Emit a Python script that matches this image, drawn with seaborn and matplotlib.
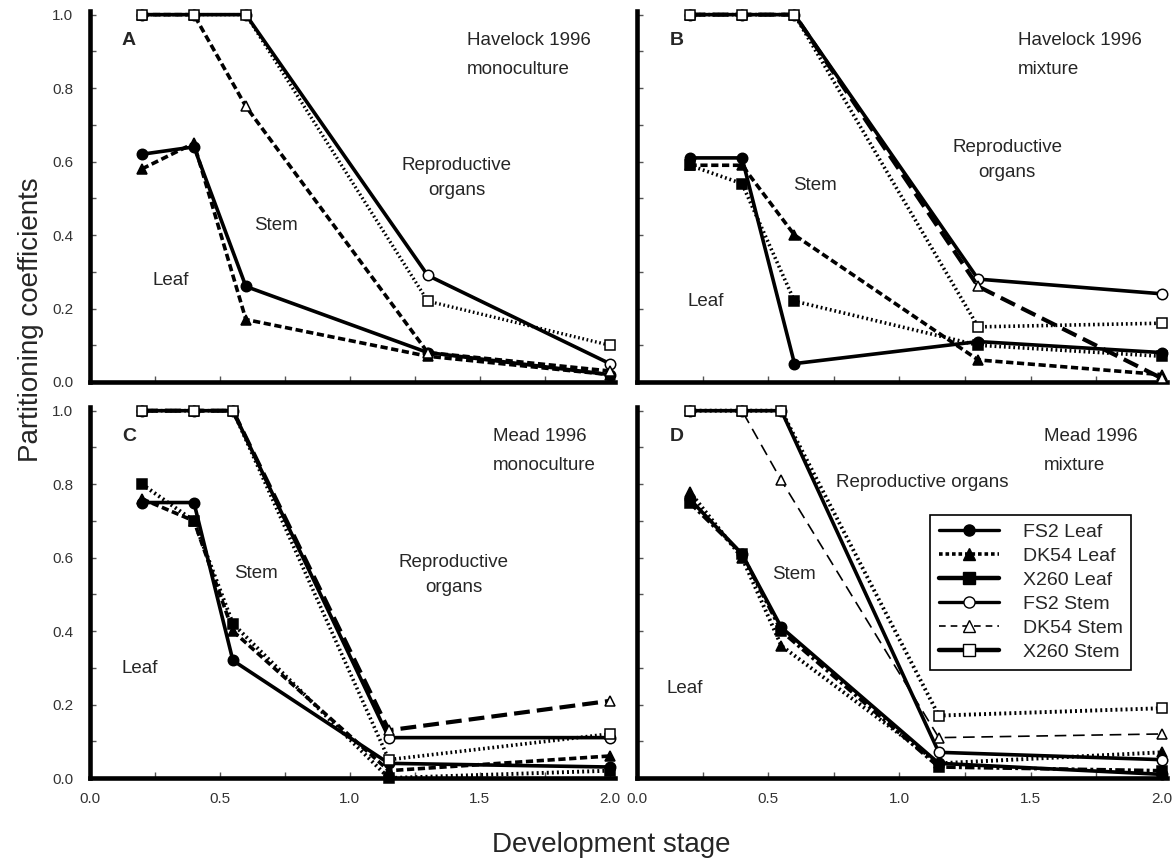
import numpy as np
import matplotlib
matplotlib.use("Agg")
import matplotlib.pyplot as plt
from matplotlib.lines import Line2D
from matplotlib.ticker import MultipleLocator
import seaborn as sns

sns.set_theme(style="white")
plt.rcParams['font.family'] = ['Liberation Sans', 'DejaVu Sans']

nan = np.nan

# development stage at each harvest
stage_havelock = [0.2, 0.4, 0.6, 1.3, 2.0]
stage_mead = [0.2, 0.4, 0.55, 1.15, 2.0]

series_names = ["FS2 Leaf", "DK54 Leaf", "X260 Leaf", "FS2 Stem", "DK54 Stem", "X260 Stem"]

# A - Havelock 1996 monoculture
a_fs2_leaf = [0.62, 0.64, 0.26, 0.08, 0.02]
a_dk54_leaf = [0.58, 0.65, 0.17, 0.07, 0.02]
a_x260_leaf = [nan, nan, nan, nan, nan]
a_fs2_stem = [1.0, 1.0, 1.0, 0.29, 0.05]
a_dk54_stem = [1.0, 1.0, 0.75, 0.08, 0.03]
a_x260_stem = [1.0, 1.0, 1.0, 0.22, 0.10]

# B - Havelock 1996 mixture
b_fs2_leaf = [0.61, 0.61, 0.05, 0.11, 0.08]
b_dk54_leaf = [0.59, 0.59, 0.40, 0.06, 0.02]
b_x260_leaf = [0.59, 0.54, 0.22, 0.10, 0.07]
b_fs2_stem = [1.0, 1.0, 1.0, 0.28, 0.24]
b_dk54_stem = [1.0, 1.0, 1.0, 0.26, 0.01]
b_x260_stem = [1.0, 1.0, 1.0, 0.15, 0.16]

# C - Mead 1996 monoculture
c_fs2_leaf = [0.75, 0.75, 0.32, 0.04, 0.03]
c_dk54_leaf = [0.76, 0.70, 0.40, 0.02, 0.06]
c_x260_leaf = [0.80, 0.70, 0.42, 0.00, 0.02]
c_fs2_stem = [1.0, 1.0, 1.0, 0.11, 0.11]
c_dk54_stem = [1.0, 1.0, 1.0, 0.13, 0.21]
c_x260_stem = [1.0, 1.0, 1.0, 0.05, 0.12]

# D - Mead 1996 mixture
d_fs2_leaf = [0.76, 0.61, 0.41, 0.04, 0.01]
d_dk54_leaf = [0.78, 0.60, 0.36, 0.04, 0.07]
d_x260_leaf = [0.75, 0.61, 0.40, 0.03, 0.02]
d_fs2_stem = [1.0, 1.0, 1.0, 0.07, 0.05]
d_dk54_stem = [1.0, 1.0, 0.81, 0.11, 0.12]
d_x260_stem = [1.0, 1.0, 1.0, 0.17, 0.19]

panel_letters = ["A", "B", "C", "D"]
site_labels = ["Havelock 1996", "Havelock 1996", "Mead 1996", "Mead 1996"]
system_labels = ["monoculture", "mixture", "monoculture", "mixture"]

# line styles
SOLID = "-"
SHORT = (0, (2.0, 1.0))
LONG = (0, (3.8, 1.7))
DOT = (0, (0.5, 0.8))
DASHDOT = (0, (2.6, 0.9, 0.8, 0.9))
THIN = (0, (7.0, 4.0))

marker_of = {"FS2": "o", "DK54": "^", "X260": "s"}

panel_styles = [
    {"FS2 Leaf": (SOLID, 2.6), "DK54 Leaf": (SHORT, 2.6), "X260 Leaf": (DOT, 2.6),
     "FS2 Stem": (SOLID, 2.6), "DK54 Stem": (SHORT, 2.6), "X260 Stem": (DOT, 2.4)},
    {"FS2 Leaf": (SOLID, 2.6), "DK54 Leaf": (SHORT, 2.6), "X260 Leaf": (DOT, 2.6),
     "FS2 Stem": (SOLID, 2.6), "DK54 Stem": (LONG, 3.0), "X260 Stem": (DOT, 2.6)},
    {"FS2 Leaf": (SOLID, 2.6), "DK54 Leaf": (SHORT, 2.6), "X260 Leaf": (DOT, 2.8),
     "FS2 Stem": (SOLID, 2.6), "DK54 Stem": (LONG, 3.0), "X260 Stem": (DOT, 2.6)},
    {"FS2 Leaf": (SOLID, 2.6), "DK54 Leaf": (DOT, 2.8), "X260 Leaf": (DASHDOT, 2.6),
     "FS2 Stem": (SOLID, 2.6), "DK54 Stem": (THIN, 1.2), "X260 Stem": (DOT, 2.8)},
]

panel_data = [
    (stage_havelock, [a_fs2_leaf, a_dk54_leaf, a_x260_leaf, a_fs2_stem, a_dk54_stem, a_x260_stem]),
    (stage_havelock, [b_fs2_leaf, b_dk54_leaf, b_x260_leaf, b_fs2_stem, b_dk54_stem, b_x260_stem]),
    (stage_mead, [c_fs2_leaf, c_dk54_leaf, c_x260_leaf, c_fs2_stem, c_dk54_stem, c_x260_stem]),
    (stage_mead, [d_fs2_leaf, d_dk54_leaf, d_x260_leaf, d_fs2_stem, d_dk54_stem, d_x260_stem]),
]

# region labels (x, y in data units)
region_text = [
    [("Leaf", 0.31, 0.275), ("Stem", 0.715, 0.425), ("Reproductive\norgans", 1.41, 0.555)],
    [("Leaf", 0.26, 0.218), ("Stem", 0.68, 0.535), ("Reproductive\norgans", 1.41, 0.605)],
    [("Leaf", 0.19, 0.298), ("Stem", 0.64, 0.558), ("Reproductive\norgans", 1.40, 0.552)],
    [("Leaf", 0.18, 0.244), ("Stem", 0.597, 0.554), ("Reproductive organs", 1.087, 0.805)],
]

fig = plt.figure(figsize=(11.76, 8.64), dpi=100)
positions = [
    [0.0765, 0.5579, 0.4464, 0.4294],
    [0.5417, 0.5579, 0.4507, 0.4294],
    [0.0765, 0.0995, 0.4464, 0.4294],
    [0.5417, 0.0995, 0.4507, 0.4294],
]

for i, pos in enumerate(positions):
    ax = fig.add_axes(pos)
    stage, values = panel_data[i]
    for name, y in zip(series_names, values):
        if np.all(np.isnan(y)):
            continue
        ls, lw = panel_styles[i][name]
        cultivar, organ = name.split()
        face = "black" if organ == "Leaf" else "white"
        sns.lineplot(x=stage, y=y, ax=ax, color="black", linestyle=ls, linewidth=lw,
                     marker=marker_of[cultivar], markersize=7.5, markerfacecolor=face,
                     markeredgecolor="black", markeredgewidth=1.1,
                     sort=False, estimator=None, clip_on=False,
                     zorder=3 if organ == "Stem" else 2)

    ax.set_xlim(0, 2.02)
    ax.set_ylim(0, 1.01)
    ax.set_xlabel("")
    ax.set_ylabel("")
    for side in ["top", "right"]:
        ax.spines[side].set_visible(False)
    for side in ["left", "bottom"]:
        ax.spines[side].set_linewidth(3.3)
        ax.spines[side].set_color("black")
    ax.xaxis.set_minor_locator(MultipleLocator(0.25))
    ax.yaxis.set_minor_locator(MultipleLocator(0.1))
    ax.tick_params(which="both", direction="in", length=4, width=1, color="#555555",
                   labelsize=11, labelcolor="#333333", bottom=True, left=True)
    ax.set_xticks([0, 0.5, 1.0, 1.5, 2.0])
    ax.set_xticklabels(["0.0", "0.5", "1.0", "1.5", "2.0"])
    ax.set_yticks([0, 0.2, 0.4, 0.6, 0.8, 1.0])
    ax.set_yticklabels(["0.0", "0.2", "0.4", "0.6", "0.8", "1.0"])
    ax.tick_params(axis="x", pad=10)
    ax.tick_params(axis="y", pad=12)
    if i in (1, 3):
        ax.tick_params(axis="y", labelleft=False)
    if i in (0, 1):
        ax.tick_params(axis="x", labelbottom=False)

    ax.text(0.15, 0.93, panel_letters[i], fontsize=14, fontweight="bold", ha="center", va="center")
    ax.text(1.45 if i < 2 else 1.55, 0.93, site_labels[i], fontsize=13.5, ha="left", va="center")
    ax.text(1.45 if i < 2 else 1.55, 0.85, system_labels[i], fontsize=13.5, ha="left", va="center")
    for label, tx, ty in region_text[i]:
        ax.text(tx, ty, label, fontsize=13.5, ha="center", va="center", linespacing=1.6)

    if i == 3:
        handles = [
            Line2D([], [], color="black", ls=SOLID, lw=2.4, marker="o", ms=8, mfc="black", mec="black"),
            Line2D([], [], color="black", ls=(0, (1.0, 0.8)), lw=2.6, marker="^", ms=8, mfc="black", mec="black"),
            Line2D([], [], color="black", ls=SOLID, lw=3.2, marker="s", ms=8, mfc="black", mec="black"),
            Line2D([], [], color="black", ls=SOLID, lw=2.4, marker="o", ms=8, mfc="white", mec="black"),
            Line2D([], [], color="black", ls=(0, (4, 3)), lw=1.2, marker="^", ms=8, mfc="white", mec="black"),
            Line2D([], [], color="black", ls=SOLID, lw=3.2, marker="s", ms=8, mfc="white", mec="black"),
        ]
        leg = ax.legend(handles, series_names, loc="upper left", bbox_to_anchor=(0.553, 0.71),
                        frameon=True, fancybox=False, framealpha=1, edgecolor="black",
                        fontsize=14, handlelength=3.1, labelspacing=0.33, borderpad=0.45,
                        handletextpad=1.2, borderaxespad=0)
        leg.get_frame().set_linewidth(1.2)

fig.text(0.026, 0.63, "Partitioning coefficients", rotation=90, fontsize=20,
         ha="center", va="center")
fig.text(0.52, 0.022, "Development stage", fontsize=20, ha="center", va="center")

fig.savefig("out.png", dpi=100)
